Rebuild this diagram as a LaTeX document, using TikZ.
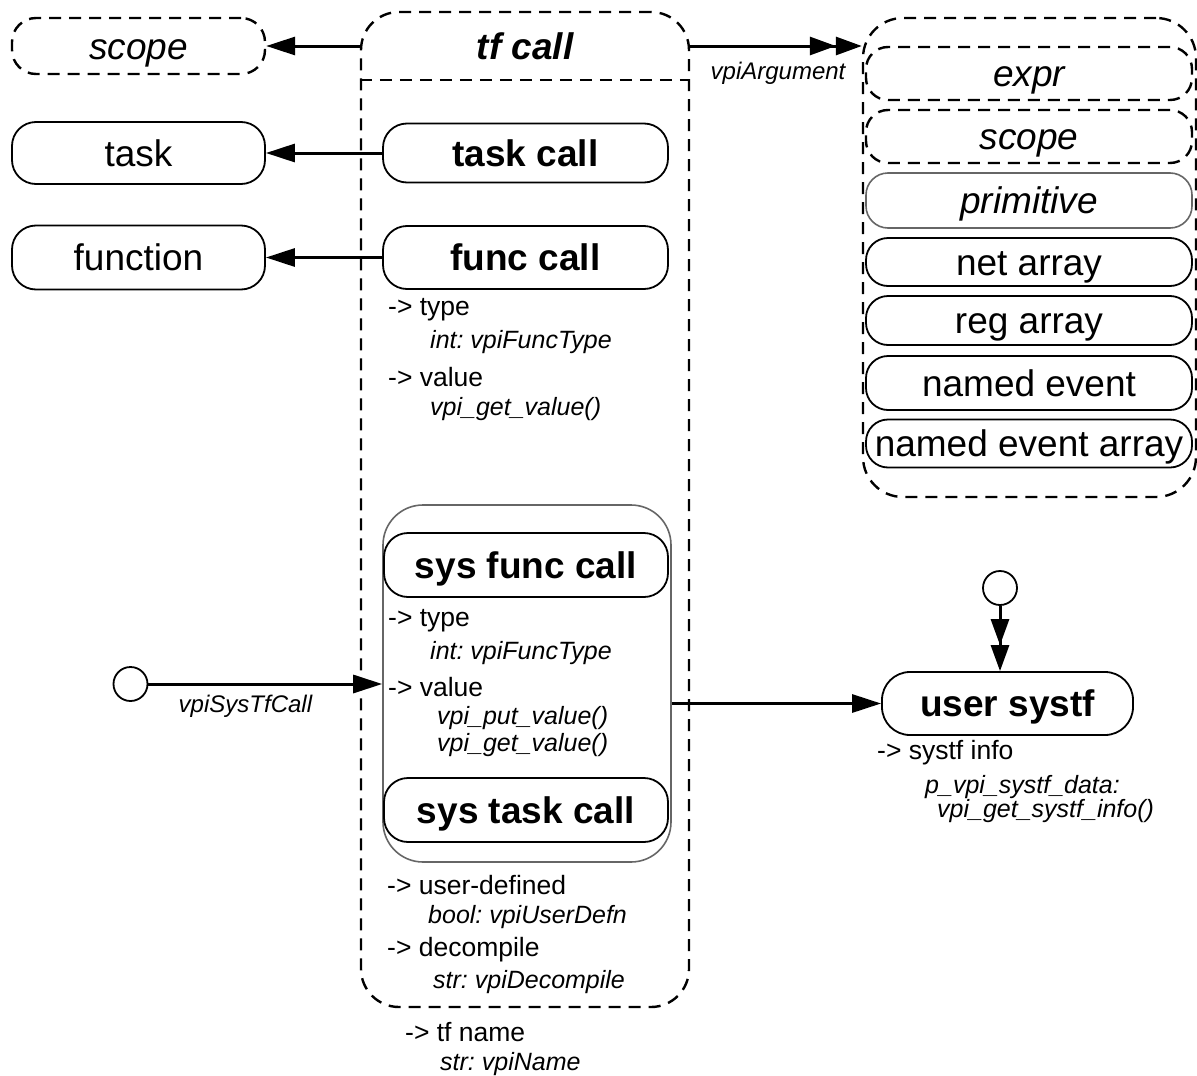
\documentclass[tikz,border=0pt]{standalone}
\usepackage{fontspec}
\setmainfont{Liberation Sans}
\usetikzlibrary{arrows.meta}
\frenchspacing
\begin{document}
\begin{tikzpicture}[x=1pt,y=-1pt,
 bigf/.style={font=\fontsize{37}{40}\selectfont},
 obj/.style={draw, line width=1.8pt, rounded corners=24pt, inner sep=0pt, bigf, text height=26.5pt, text depth=0pt},
 dobj/.style={obj, line width=2.4pt, dash pattern=on 12pt off 8pt},
 gobj/.style={obj, draw=black!60, line width=1.6pt},
 attr/.style={anchor=west, inner sep=0pt, font=\fontsize{26.5}{30}\selectfont},
 aval/.style={anchor=west, inner sep=0pt, font=\fontsize{25}{28}\selectfont\itshape},
 conn/.style={line width=3pt, -{Triangle[length=29pt,width=18pt]}},
 mconn/.style={line width=3pt, -{Triangle[length=26pt,width=18pt]Triangle[length=26pt,width=18pt]}},
 lbl/.style={inner sep=0pt, font=\fontsize{24}{28}\selectfont\itshape},
 dotc/.style={circle, draw, line width=1.8pt, minimum size=34pt, inner sep=0pt},
]
\useasboundingbox (0,0) rectangle (1197,1076);
% tf call container
\node[dobj, rounded corners=38pt, minimum width=328pt, minimum height=995pt] (tf) at (525,509.5) {};
\node[font=\fontsize{37}{40}\selectfont\bfseries\itshape, inner sep=0pt, text height=26.5pt, text depth=0pt] (tfl) at (525,46) {tf call};
\coordinate (hdr) at (525,80);
\draw[line width=2.4pt, dash pattern=on 12pt off 8pt] (tf.west |- hdr) -- (tf.east |- hdr);
% left objects
\node[dobj, minimum width=253pt, minimum height=56pt, font=\fontsize{37}{40}\selectfont\itshape] (scope) at (138.5,46) {scope};
\node[obj, minimum width=253pt, minimum height=62pt] (task) at (138.5,153) {task};
\node[obj, minimum width=253pt, minimum height=64pt] (function) at (138.5,257.5) {function};
% inner objects
\node[obj, minimum width=285pt, minimum height=59pt, font=\fontsize{37}{40}\selectfont\bfseries] (tc) at (525.5,153) {task call};
\node[obj, minimum width=285pt, minimum height=63pt, font=\fontsize{37}{40}\selectfont\bfseries] (fc) at (525.5,257.5) {func call};
\node[attr] (t1) at (388,310) {-> type};
\node[aval] (t2) at (430,342) {int: vpiFuncType};
\node[attr] (t3) at (388,377) {-> value};
\node[aval] (t4) at (430,409) {vpi\_get\_value()};
% sys group
\node[gobj, rounded corners=40pt, minimum width=288pt, minimum height=357pt] (sysg) at (527,683.5) {};
\node[obj, minimum width=284pt, minimum height=64pt, font=\fontsize{37}{40}\selectfont\bfseries] (sfc) at (526,565) {sys func call};
\node[attr] (s1) at (388,621) {-> type};
\node[aval] (s2) at (430,653) {int: vpiFuncType};
\node[attr] (s3) at (388,687) {-> value};
\node[aval] (s4) at (437,718) {vpi\_put\_value()};
\node[aval] (s5) at (437,745) {vpi\_get\_value()};
\node[obj, minimum width=284pt, minimum height=64pt, font=\fontsize{37}{40}\selectfont\bfseries] (stc) at (526,810) {sys task call};
\node[attr] (u1) at (387,885) {-> user-defined};
\node[aval] (u2) at (428,917) {bool: vpiUserDefn};
\node[attr] (u3) at (387,950) {-> decompile};
\node[aval] (u4) at (433,982) {str: vpiDecompile};
\node[attr] (n1) at (405,1032) {-> tf name};
\node[aval] (n2) at (440,1064) {str: vpiName};
% argument group
\node[dobj, rounded corners=40pt, minimum width=333pt, minimum height=479pt] (args) at (1029.5,257.5) {};
\node[dobj, rounded corners=22pt, minimum width=326pt, minimum height=53pt, font=\fontsize{37}{40}\selectfont\itshape] (expr) at (1029,73.5) {expr};
\node[dobj, rounded corners=22pt, minimum width=326pt, minimum height=53pt, font=\fontsize{37}{40}\selectfont\itshape] (scope2) at (1029,136.5) {scope};
\node[gobj, rounded corners=22pt, minimum width=326pt, minimum height=55pt, font=\fontsize{37}{40}\selectfont\itshape] (prim) at (1029,200.5) {primitive};
\node[obj, rounded corners=22pt, minimum width=326pt, minimum height=48pt] (netarr) at (1029,262) {net array};
\node[obj, rounded corners=22pt, minimum width=326pt, minimum height=49pt] (regarr) at (1029,320.5) {reg array};
\node[obj, rounded corners=22pt, minimum width=326pt, minimum height=54pt] (nev) at (1029,383) {named event};
\node[obj, rounded corners=22pt, minimum width=326pt, minimum height=48pt] (nevarr) at (1029,443.5) {named event array};
% user systf
\node[obj, rounded corners=28pt, minimum width=251pt, minimum height=63pt, font=\fontsize{37}{40}\selectfont\bfseries] (usys) at (1007.5,703.5) {user systf};
\node[attr] (y1) at (877,753) {-> systf info};
\node[aval] (y2) at (925,787) {p\_vpi\_systf\_data:};
\node[aval] (y3) at (937,811) {vpi\_get\_systf\_info()};
% circles
\node[dotc] (lc) at (130.5,684) {};
\node[dotc] (topc) at (1000,588) {};
% connectors
\draw[conn] (tf.west |- scope.east) -- (scope.east);
\draw[conn] (tc.west) -- (task.east);
\draw[conn] (fc.west) -- (function.east);
\draw[mconn] (tf.east |- tfl.center) -- (args.west |- tfl.center) node[lbl, pos=0, anchor=north west, shift={(19,15)}] {vpiArgument};
\draw[conn] (lc.east) -- (sysg.west |- lc.east) node[lbl, pos=0.415, below=10pt] {vpiSysTfCall};
\draw[conn] (sysg.east |- usys.west) -- (usys.west);
\draw[mconn] (topc.south) -- (topc.south |- usys.north);
\end{tikzpicture}
\end{document}
